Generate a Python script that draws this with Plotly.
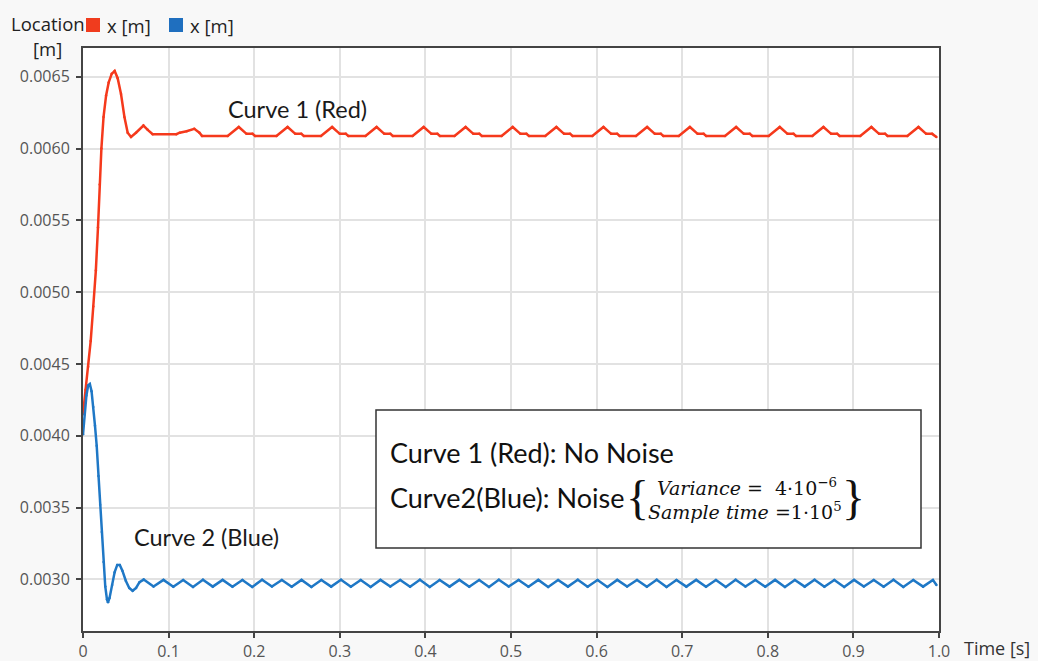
import plotly.graph_objects as go

# ---------------- data ----------------
red_time = [0, 0.003, 0.006, 0.009, 0.012, 0.015, 0.0175, 0.0195, 0.0215, 0.024,
            0.027, 0.030, 0.0335, 0.037, 0.0405, 0.0444, 0.0484, 0.0522, 0.0561, 0.0619,
            0.0706, 0.0756, 0.0814, 0.109, 0.113, 0.121, 0.130, 0.136, 0.139,
            0.169, 0.182, 0.191, 0.198, 0.201,
            0.226, 0.239, 0.248, 0.255, 0.258,
            0.278, 0.291, 0.300, 0.307, 0.310,
            0.330, 0.343, 0.352, 0.359, 0.362,
            0.385, 0.398, 0.407, 0.414, 0.417,
            0.434, 0.447, 0.456, 0.463, 0.466,
            0.489, 0.502, 0.511, 0.518, 0.521,
            0.540, 0.553, 0.562, 0.569, 0.572,
            0.595, 0.608, 0.617, 0.624, 0.627,
            0.646, 0.659, 0.668, 0.675, 0.678,
            0.696, 0.709, 0.718, 0.725, 0.728,
            0.750, 0.763, 0.772, 0.779, 0.782,
            0.801, 0.814, 0.823, 0.830, 0.833,
            0.852, 0.865, 0.874, 0.881, 0.884,
            0.908, 0.921, 0.930, 0.937, 0.940,
            0.963, 0.976, 0.985, 0.992, 0.997]

red_loc = [0.00415, 0.00432, 0.00448, 0.00466, 0.00490, 0.00515, 0.00545, 0.00575, 0.00600, 0.00622,
           0.00637, 0.00646, 0.00652, 0.00654, 0.00649, 0.00638, 0.00622, 0.00611, 0.00608, 0.00611,
           0.00616, 0.00613, 0.00610, 0.00610, 0.00611, 0.00612, 0.006137, 0.00611, 0.006088,
           0.006088, 0.00615, 0.006102, 0.006102, 0.006088,
           0.006088, 0.00615, 0.006102, 0.006102, 0.006088,
           0.006088, 0.00615, 0.006102, 0.006102, 0.006088,
           0.006088, 0.00615, 0.006102, 0.006102, 0.006088,
           0.006088, 0.00615, 0.006102, 0.006102, 0.006088,
           0.006088, 0.00615, 0.006102, 0.006102, 0.006088,
           0.006088, 0.00615, 0.006102, 0.006102, 0.006088,
           0.006088, 0.00615, 0.006102, 0.006102, 0.006088,
           0.006088, 0.00615, 0.006102, 0.006102, 0.006088,
           0.006088, 0.00615, 0.006102, 0.006102, 0.006088,
           0.006088, 0.00615, 0.006102, 0.006102, 0.006088,
           0.006088, 0.00615, 0.006102, 0.006102, 0.006088,
           0.006088, 0.00615, 0.006102, 0.006102, 0.006088,
           0.006088, 0.00615, 0.006102, 0.006102, 0.006088,
           0.006088, 0.00615, 0.006102, 0.006102, 0.006088,
           0.006088, 0.00615, 0.006102, 0.006102, 0.00608]

blue_time = [0, 0.002, 0.004, 0.006, 0.008, 0.010, 0.012, 0.014, 0.016, 0.018,
             0.020, 0.022, 0.024, 0.026, 0.028, 0.0292, 0.031, 0.034, 0.037, 0.040,
             0.043, 0.046, 0.050, 0.054, 0.058, 0.062, 0.066,
             0.0709, 0.0824, 0.0940, 0.1055, 0.1170, 0.1285, 0.1401, 0.1516, 0.1631, 0.1746,
             0.1862, 0.1977, 0.2092, 0.2207, 0.2323, 0.2438, 0.2553, 0.2668, 0.2784, 0.2899,
             0.3014, 0.3129, 0.3245, 0.3360, 0.3475, 0.3590, 0.3706, 0.3821, 0.3936, 0.4051,
             0.4167, 0.4282, 0.4397, 0.4512, 0.4628, 0.4743, 0.4858, 0.4973, 0.5089, 0.5204,
             0.5319, 0.5434, 0.5550, 0.5665, 0.5780, 0.5895, 0.6011, 0.6126, 0.6241, 0.6356,
             0.6472, 0.6587, 0.6702, 0.6817, 0.6933, 0.7048, 0.7163, 0.7278, 0.7394, 0.7509,
             0.7624, 0.7739, 0.7855, 0.7970, 0.8085, 0.8200, 0.8316, 0.8431, 0.8546, 0.8661,
             0.8777, 0.8892, 0.9007, 0.9122, 0.9238, 0.9353, 0.9468, 0.9583, 0.9699, 0.9814,
             0.9929, 0.997]

blue_loc = [0.00401, 0.00415, 0.00428, 0.00435, 0.00436, 0.00431, 0.00420, 0.00407, 0.00393, 0.00372,
            0.00352, 0.00333, 0.00312, 0.00295, 0.00286, 0.00284, 0.00287, 0.00296, 0.00305, 0.00310,
            0.00310, 0.00306, 0.00299, 0.00294, 0.00292, 0.00294, 0.00298,
            0.002998, 0.002950, 0.002996, 0.002948, 0.002995, 0.002947, 0.002997, 0.002949, 0.002996, 0.002948,
            0.002995, 0.002947, 0.002997, 0.002950, 0.002995, 0.002948, 0.002996, 0.002947, 0.002995, 0.002949,
            0.002997, 0.002948, 0.002995, 0.002947, 0.002996, 0.002950, 0.002995, 0.002948, 0.002997, 0.002947,
            0.002995, 0.002949, 0.002996, 0.002948, 0.002995, 0.002947, 0.002997, 0.002950, 0.002995, 0.002948,
            0.002996, 0.002947, 0.002995, 0.002949, 0.002997, 0.002948, 0.002995, 0.002947, 0.002996, 0.002950,
            0.002995, 0.002948, 0.002997, 0.002947, 0.002995, 0.002949, 0.002996, 0.002948, 0.002995, 0.002947,
            0.002997, 0.002950, 0.002995, 0.002948, 0.002996, 0.002947, 0.002995, 0.002949, 0.002997, 0.002948,
            0.002995, 0.002947, 0.002996, 0.002950, 0.002995, 0.002948, 0.002997, 0.002947, 0.002995, 0.002949,
            0.002996, 0.00296]

x_ticks = [0, 0.1, 0.2, 0.3, 0.4, 0.5, 0.6, 0.7, 0.8, 0.9, 1.0]
x_tick_labels = ["0", "0.1", "0.2", "0.3", "0.4", "0.5", "0.6", "0.7", "0.8", "0.9", "1.0"]
y_ticks = [0.0030, 0.0035, 0.0040, 0.0045, 0.0050, 0.0055, 0.0060, 0.0065]
y_tick_labels = ["0.0030", "0.0035", "0.0040", "0.0045", "0.0050", "0.0055", "0.0060", "0.0065"]

RED = "#f5391c"
BLUE = "#1f78c6"

# ---------------- layout geometry ----------------
W, H = 1038, 661
ML, MR, MT, MB = 83, 99, 48, 30
PW, PH = W - ML - MR, H - MT - MB


def px(x):
    return (x - ML) / PW


def py(y):
    return (H - MB - y) / PH


fig = go.Figure()
fig.add_trace(go.Scatter(x=red_time, y=red_loc, mode="lines+markers",
                         line=dict(color=RED, width=2.5), marker=dict(color=RED, size=2.5),
                         name="x [m]", showlegend=False))
fig.add_trace(go.Scatter(x=blue_time, y=blue_loc, mode="lines+markers",
                         line=dict(color=BLUE, width=2.5), marker=dict(color=BLUE, size=2.5),
                         name="x [m]", showlegend=False))

axis_font = dict(family="Open Sans", size=16, color="#555555")
common = dict(showgrid=True, gridcolor="#e2e2e2", gridwidth=1.5,
              showline=True, linecolor="#444444", linewidth=2, mirror=True,
              ticks="outside", ticklen=5, tickcolor="#444444", tickwidth=2,
              tickfont=axis_font, zeroline=False, automargin=False)

fig.update_xaxes(range=[0, 1.0], tickvals=x_ticks, ticktext=x_tick_labels, **common)
fig.update_yaxes(range=[0.00264, 0.0067], tickvals=y_ticks, ticktext=y_tick_labels,
                 ticklabelstandoff=3, **common)

shapes = [
    dict(type="rect", xref="paper", yref="paper", x0=px(376), x1=px(921), y0=py(548), y1=py(410),
         line=dict(color="#333333", width=1.5), fillcolor="white", layer="above"),
    dict(type="rect", xref="paper", yref="paper", x0=px(86), x1=px(100), y0=py(32), y1=py(18),
         line=dict(width=0), fillcolor="#f03c1e"),
    dict(type="rect", xref="paper", yref="paper", x0=px(169), x1=px(183), y0=py(32), y1=py(18),
         line=dict(width=0), fillcolor="#1f6fbf"),
]

lab_font = dict(family="Open Sans", size=18.5, color="#222222")
cal_font = dict(family="Lato", size=23.5, color="#1a1a1a")
box_font = dict(family="Lato", size=27, color="#111111")
math_font = dict(family="DejaVu Serif", size=19, color="#111111")
brace_font = dict(family="Liberation Serif", size=48, color="#111111")


def ann(text, x, y, font, xanchor="left", align="left"):
    return dict(text=text, x=px(x), y=py(y), xref="paper", yref="paper",
                xanchor=xanchor, yanchor="middle", showarrow=False, font=font, align=align)


annotations = [
    ann("Location", 48, 24, lab_font, xanchor="center"),
    ann("[m]", 47, 48, lab_font, xanchor="center"),
    ann("x [m]", 105, 25, lab_font),
    ann("x [m]", 188, 25, lab_font),
    ann("Time [s]", 962, 648, dict(family="Open Sans", size=18, color="#333333")),
    ann("Curve 1 (Red)", 226, 109, cal_font),
    ann("Curve 2 (Blue)", 132, 537, cal_font),
    ann("Curve 1 (Red): No Noise", 388, 452, box_font),
    ann("Curve2(Blue): Noise", 388, 497, box_font),
    ann("{", 637, 497, brace_font, xanchor="center"),
    ann("}", 853, 497, brace_font, xanchor="center"),
    ann("<i>Variance</i> =  4·10<sup>−6</sup>", 747, 487, math_font, xanchor="center"),
    ann("<i>Sample time</i> =1·10<sup>5</sup>", 745, 511, math_font, xanchor="center"),
]

fig.update_layout(width=W, height=H, margin=dict(l=ML, r=MR, t=MT, b=MB),
                  paper_bgcolor="#f8f8f8", plot_bgcolor="white",
                  shapes=shapes, annotations=annotations, showlegend=False)

fig.write_html("out.html")
